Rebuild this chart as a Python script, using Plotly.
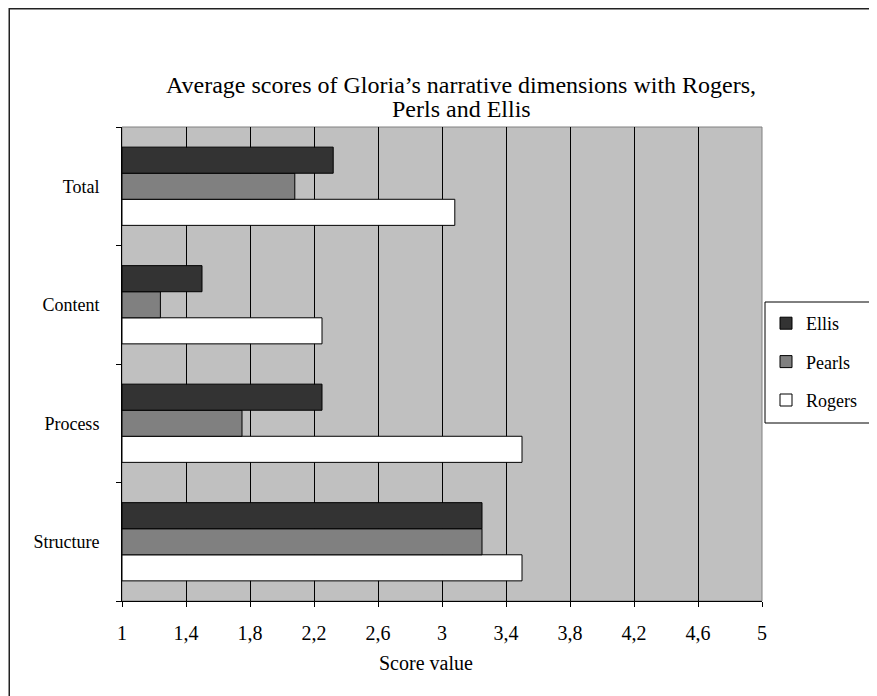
import plotly.graph_objects as go

categories = ["Structure", "Process", "Content", "Total"]
rogers = [3.5, 3.5, 2.25, 3.08]
pearls = [3.25, 1.75, 1.24, 2.08]
ellis = [3.25, 2.25, 1.5, 2.32]
tick_vals = [1, 1.4, 1.8, 2.2, 2.6, 3, 3.4, 3.8, 4.2, 4.6, 5]
tick_text = ["1", "1,4", "1,8", "2,2", "2,6", "3", "3,4", "3,8", "4,2", "4,6", "5"]
title_lines = ["Average scores of Gloria\u2019s narrative dimensions with Rogers,", "Perls and Ellis"]

# page body has an 8px margin; figure sized to fit the window
W, H = 869, 688
L, R, T, B = 114, 115, 119, 95
pw, ph = W - L - R, H - T - B

def px(x):
    return (x - L) / pw

def py(y):
    return (H - B - y) / ph

FONT = "Liberation Serif"

fig = go.Figure()
series = [("Rogers", rogers, "#FFFFFF", 3), ("Pearls", pearls, "#808080", 2), ("Ellis", ellis, "#333333", 1)]
for name, vals, col, rank in series:
    fig.add_trace(go.Bar(
        y=categories, x=[v - 1 for v in vals], base=1, orientation="h", name=name,
        legendgroup=name, legendrank=rank,
        marker=dict(color=col, line=dict(color="#000000", width=1)),
    ))

annotations = [dict(
    text="Score value", x=px(418), y=py(655), xref="paper", yref="paper",
    showarrow=False, xanchor="center", yanchor="middle",
    font=dict(family=FONT, size=20),
)]
for i, line in enumerate(title_lines):
    annotations.append(dict(
        text=line, x=px(453), y=py(77 + 24 * i), xref="paper", yref="paper",
        showarrow=False, xanchor="center", yanchor="middle",
        font=dict(family=FONT, size=24),
    ))

fig.update_layout(
    width=W, height=H,
    margin=dict(l=L, r=R, t=T, b=B),
    paper_bgcolor="white", plot_bgcolor="#C0C0C0",
    font=dict(family=FONT, size=18, color="black"),
    barmode="group", bargap=0.34, bargroupgap=0,
    showlegend=True,
    legend=dict(
        x=px(758), y=py(297), xanchor="left", yanchor="top",
        bgcolor="rgba(0,0,0,0)", borderwidth=0,
        traceorder="grouped", tracegroupgap=12,
        font=dict(family=FONT, size=18),
    ),
    xaxis=dict(
        range=[1, 5], tickvals=tick_vals, ticktext=tick_text,
        showgrid=True, gridcolor="#000000", gridwidth=1,
        showline=True, linecolor="#000000", linewidth=1,
        ticks="outside", ticklen=5, tickcolor="#000000",
        ticklabelstandoff=9, zeroline=False,
        tickfont=dict(family=FONT, size=20),
    ),
    yaxis=dict(
        showline=True, linecolor="#000000", linewidth=1,
        ticks="outside", ticklen=5, tickcolor="#000000",
        tickson="boundaries", ticklabelstandoff=18,
        tickfont=dict(family=FONT, size=18),
        showgrid=False,
    ),
    annotations=annotations,
    shapes=[
        dict(type="rect", xref="paper", yref="paper", x0=0, x1=1, y0=0, y1=1,
             line=dict(color="#808080", width=1), layer="below"),
        dict(type="rect", xref="paper", yref="paper",
             x0=px(757), x1=px(880), y0=py(415), y1=py(294),
             line=dict(color="#000000", width=1), fillcolor="white", layer="above"),
        dict(type="rect", xref="paper", yref="paper",
             x0=px(1.25), x1=px(900), y0=py(720), y1=py(0.75),
             line=dict(color="#222222", width=1.5), fillcolor="rgba(0,0,0,0)", layer="above"),
    ],
)

fig.write_html("out.html")
